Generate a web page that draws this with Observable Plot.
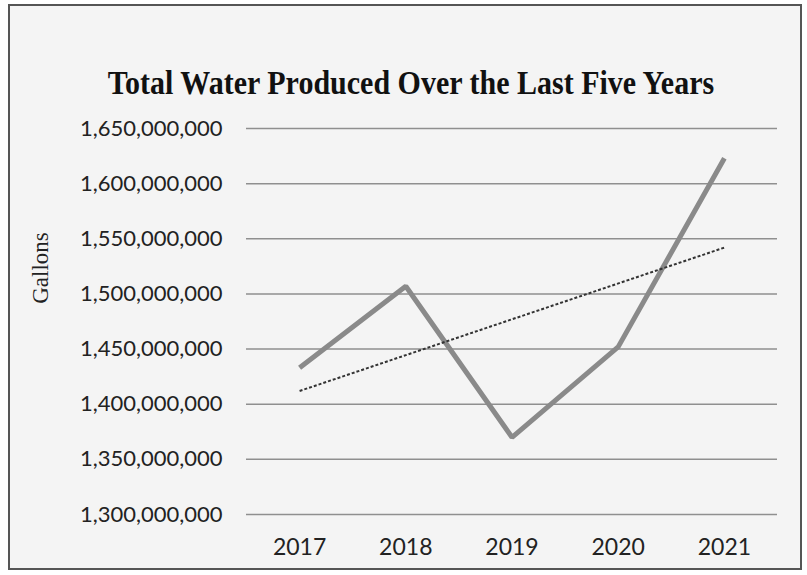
<!DOCTYPE html>
<html>
<head>
<meta charset="utf-8">
<script src="https://cdn.jsdelivr.net/npm/d3@7"></script>
<script src="https://cdn.jsdelivr.net/npm/@observablehq/plot@0.6"></script>
<style>
  html, body { margin: 0; padding: 0; background: #ffffff; }
  #wrap { position: relative; width: 807px; height: 575px; overflow: hidden; }
  #frame { position: absolute; left: 8px; top: 4px; width: 794px; height: 566px;
           border: 2px solid #555; background: #f4f4f4; box-sizing: border-box; }
  #title { position: absolute; left: 0; width: 822px; top: 66px; text-align: center;
           font-family: "Liberation Serif", "Times New Roman", serif; font-weight: bold;
           font-size: 30px; color: #111; white-space: nowrap; transform: scaleY(1.12); transform-origin: 50% 50%; }
  #ylabel { position: absolute; left: 41px; top: 268px; transform: translate(-50%, -50%) rotate(-90deg);
            font-family: "Liberation Serif", "Times New Roman", serif; font-size: 23px; color: #222;
            white-space: nowrap; }
  #chart { position: absolute; left: 0; top: 100px; }
</style>
</head>
<body>
<div id="wrap">
  <div id="frame"></div>
  <div id="title">Total Water Produced Over the Last Five Years</div>
  <div id="ylabel">Gallons</div>
  <div id="chart"></div>
</div>
<script>
const years = [2017, 2018, 2019, 2020, 2021];
const gallons = [1433000000, 1507000000, 1370000000, 1452000000, 1623000000];
const yTicks = [1300000000, 1350000000, 1400000000, 1450000000, 1500000000, 1550000000, 1600000000, 1650000000];

const data = years.map((y, i) => ({year: y, value: gallons[i]}));

const fmt = d3.format(",");

const chart = Plot.plot({
  width: 807,
  height: 465,
  marginTop: 28,
  marginBottom: 51,
  marginLeft: 246,
  marginRight: 30,
  style: { background: "transparent", fontFamily: "Lato, sans-serif", color: "#222" },
  x: { type: "linear", domain: [years[0] - 0.5, years[years.length - 1] + 0.5], label: null },
  y: { domain: [yTicks[0], yTicks[yTicks.length - 1]], label: null },
  marks: [
    Plot.ruleY(yTicks, { stroke: "#8f8f8f", strokeWidth: 1.5 }),
    Plot.axisY({ ticks: yTicks, tickFormat: fmt, tickSize: 0, tickPadding: 24, fontSize: 22, label: null }),
    Plot.axisX({ ticks: years, tickFormat: d => String(d), tickSize: 0, tickPadding: 24, fontSize: 23, label: null }),
    Plot.line(data, { x: "year", y: "value", stroke: "#8a8a8a", strokeWidth: 5, strokeLinejoin: "miter", strokeLinecap: "butt" }),
    Plot.linearRegressionY(data, { x: "year", y: "value", ci: 0, stroke: "#333", strokeWidth: 2,
      strokeDasharray: "3,2", strokeLinecap: "butt" })
  ]
});
document.getElementById("chart").appendChild(chart);
</script>
</body>
</html>
